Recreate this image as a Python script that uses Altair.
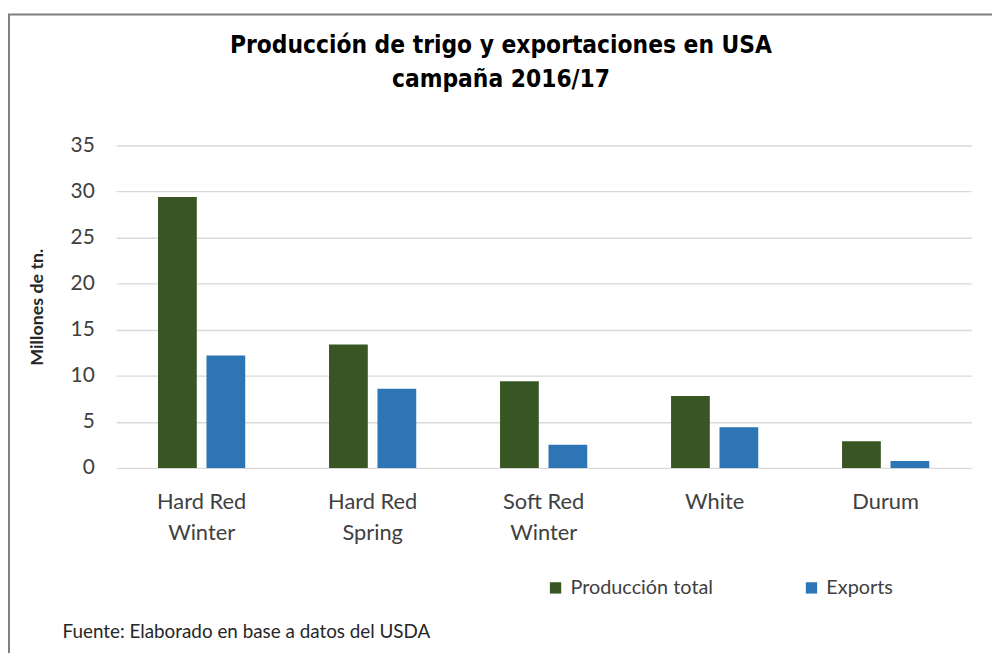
import altair as alt
import pandas as pd

categories = ["Hard Red Winter", "Hard Red Spring", "Soft Red Winter", "White", "Durum"]
produccion_total = [29.4, 13.4, 9.4, 7.8, 2.9]
exports = [12.2, 8.6, 2.5, 4.4, 0.75]
series = ["Producción total", "Exports"]
colors = ["#375623", "#2e75b6"]
y_ticks = [0, 5, 10, 15, 20, 25, 30, 35]
title_lines = ["Producción de trigo y exportaciones en USA", "campaña 2016/17"]
y_title = "Millones de tn."
footnote = "Fuente: Elaborado en base a datos del USDA"

rows = []
for c, p, e in zip(categories, produccion_total, exports):
    rows.append({"categoria": c, "serie": series[0], "valor": p})
    rows.append({"categoria": c, "serie": series[1], "valor": e})
df = pd.DataFrame(rows)

BODY = "Lato"
TITLE_FONT = "DejaVu Sans Condensed, DejaVu Sans, sans-serif"

label_expr = ("indexof(datum.label, ' ') > 0 ? "
              "[substring(datum.label, 0, lastindexof(datum.label, ' ')), "
              "substring(datum.label, lastindexof(datum.label, ' ') + 1)] : datum.label")

bars = alt.Chart(df).mark_bar().encode(
    x=alt.X("categoria:N", sort=categories, title=None,
            scale=alt.Scale(paddingInner=0.49, paddingOuter=0.245),
            axis=alt.Axis(labelAngle=0, domain=False, ticks=False, grid=False,
                          labelExpr=label_expr, labelLineHeight=31,
                          labelPadding=24, labelFontSize=22, labelFont=BODY,
                          labelColor="#404040", labelBaseline="top")),
    xOffset=alt.XOffset("serie:N", sort=series,
                        scale=alt.Scale(paddingInner=0.2, paddingOuter=0)),
    y=alt.Y("valor:Q", title=y_title,
            scale=alt.Scale(domain=[0, 35], nice=False),
            axis=alt.Axis(values=y_ticks, domain=False, ticks=False,
                          gridColor="#d9d9d9", gridWidth=1.3,
                          labelFontSize=21, labelFont=BODY, labelColor="#404040",
                          labelPadding=22, titleFont=BODY, titleFontSize=18,
                          titleFontWeight="bold", titleColor="#262626",
                          titlePadding=24)),
    color=alt.Color("serie:N", sort=series,
                    scale=alt.Scale(domain=series, range=colors),
                    legend=alt.Legend(title=None, orient="none", direction="horizontal",
                                      legendX=433, legendY=436, symbolType="square",
                                      symbolSize=130, symbolStrokeWidth=0,
                                      labelFont=BODY, labelFontSize=20,
                                      labelColor="#404040", labelOffset=5,
                                      columnPadding=89, padding=0)),
)

one = pd.DataFrame({"t": [footnote]})
note = alt.Chart(one).mark_text(align="left", baseline="middle", font=BODY,
                                fontSize=19, color="#262626").encode(
    x=alt.value(-54), y=alt.value(491), text="t:N")

title = alt.Chart(one).mark_text(text=title_lines, align="center", baseline="middle",
                                 font=TITLE_FONT, fontSize=24.5, fontWeight="bold",
                                 color="#000000", lineHeight=34).encode(
    x=alt.value(388), y=alt.value(-100))

frame = alt.Chart(one).mark_rect(fill=None, stroke="#7f7f7f", strokeWidth=2).encode(
    x=alt.value(-108), x2=alt.value(950), y=alt.value(-132), y2=alt.value(560))

chart = alt.layer(frame, bars, note, title).properties(
    width=862, height=325,
    autosize=alt.AutoSizeParams(type="none"),
    padding={"left": 109, "top": 136, "right": 21, "bottom": 184},
).configure_view(stroke=None)

chart.save("out.html", embed_options={"renderer": "svg", "actions": False})
